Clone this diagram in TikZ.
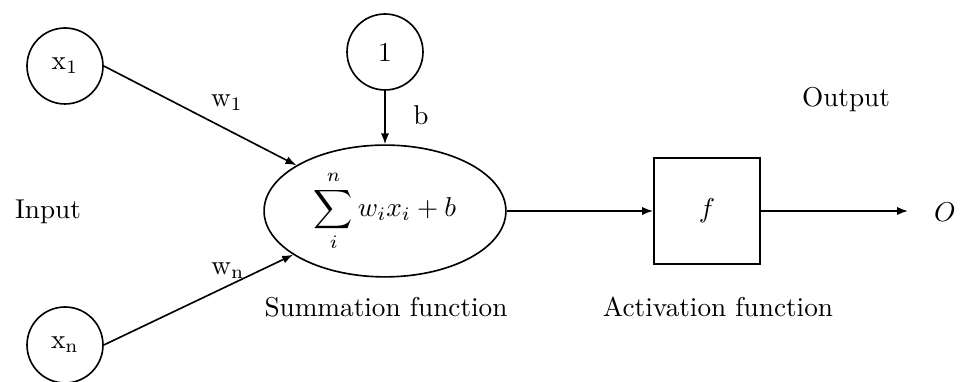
\documentclass[tikz,border=0pt]{standalone}
\usetikzlibrary{shapes.geometric,arrows.meta}
\begin{document}
\begin{tikzpicture}[x=1.29mm,y=-1.29mm,
    neuron/.style={circle,draw,line width=0.6pt,minimum size=9.8mm,inner sep=0pt},
    link/.style={line width=0.6pt,-{Latex[length=4pt,width=3pt]}}]
  \useasboundingbox (0,0) rectangle (96.5,38.2);

  % inputs and bias unit
  \node[neuron] (x1) at (6.5,6.6) {x\textsubscript{1}};
  \node[neuron] (xn) at (6.5,34.5) {x\textsubscript{n}};
  \node[neuron] (one) at (38.5,5.2) {1};

  % summation and activation
  \node[ellipse,draw,line width=0.6pt,minimum width=31.2mm,minimum height=17mm,inner sep=0pt]
    (sum) at (38.5,21.1) {$\displaystyle\sum_i^n w_i x_i + b$};
  \node[rectangle,draw,line width=0.6pt,minimum size=13.7mm] (act) at (70.7,21.1) {$f$};
  \coordinate (out) at (90.8,21.1);
  \node (o) at (94.5,21.2) {$O$};

  % connections
  \draw[link] (x1.east) -- (sum);
  \draw[link] (xn.east) -- (sum);
  \draw[link] (one) -- (sum);
  \draw[link] (sum) -- (act);
  \draw[link] (act) -- (out);

  % weights and captions
  \node (w1) at (22.7,10.3) {w\textsubscript{1}};
  \node (wn) at (22.8,27.1) {w\textsubscript{n}};
  \node (b) at (42.1,11.5) {b};
  \node (input) at (4.8,21.2) {Input};
  \node (output) at (84.6,10.0) {Output};
  \node (sumlabel) at (38.6,30.7) {Summation function};
  \node (actlabel) at (71.8,30.7) {Activation function};
\end{tikzpicture}
\end{document}
